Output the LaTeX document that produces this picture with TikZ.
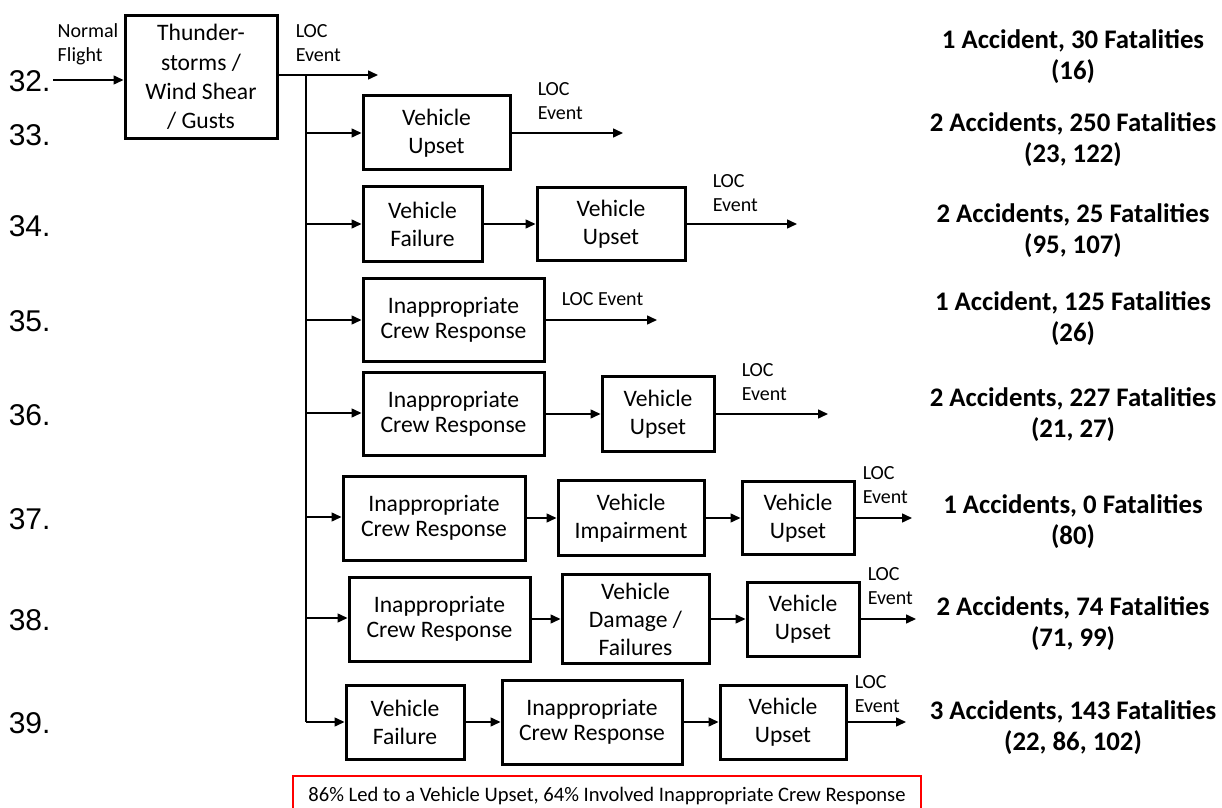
\documentclass[tikz,border=0pt]{standalone}
\usepackage{fontspec}
\setmainfont{Carlito}
\newfontfamily\rowfont{Liberation Sans}
\usetikzlibrary{arrows.meta}
\tikzset{
  blk/.style={draw, line width=1.5pt, align=center, inner sep=0pt,
    font=\fontsize{11.8}{14}\selectfont},
  crew/.style={blk, font=\fontsize{11.8}{12.6}\selectfont},
  loc/.style={anchor=west, align=left, inner sep=0pt,
    font=\fontsize{10}{12}\selectfont},
  tally/.style={align=center, inner sep=0pt,
    font=\fontsize{13.4}{15.5}\selectfont\bfseries},
  rownum/.style={anchor=west, inner sep=0pt,
    font=\fontsize{15}{18}\selectfont\rowfont},
  note/.style={draw=red, line width=0.6pt, inner sep=0pt,
    font=\fontsize{10.3}{12}\selectfont},
  >={Triangle[length=5pt,width=4.5pt]}
}

\begin{document}
\begin{tikzpicture}[x=0.5pt, y=-0.5pt, line width=0.75pt]
  \useasboundingbox (0,0) rectangle (1222,808);

  \node [rownum] (n32) at (8,81) {32.};
  \node [rownum] (n33) at (8,135) {33.};
  \node [rownum] (n34) at (8,226) {34.};
  \node [rownum] (n35) at (8,321) {35.};
  \node [rownum] (n36) at (8,415) {36.};
  \node [rownum] (n37) at (8,519) {37.};
  \node [rownum] (n38) at (8,620) {38.};
  \node [rownum] (n39) at (8,723) {39.};

  \node [blk, font=\fontsize{11.8}{14.6}\selectfont, minimum width=76pt, minimum height=61.5pt] (storm) at (201,77) {Thunder-\\storms /\\Wind Shear\\/ Gusts};
  \coordinate (in) at (53,80);
  \node [loc] (normal) at (57,44) {Normal\\Flight};
  \draw [->] (in) -- (in -| storm.west);

  \coordinate (b32) at (306,75);
  \coordinate (e32) at (378,75);
  \draw [->] (storm.east |- e32) -- (e32);
  \node [loc] (loc32) at (295,43.5) {LOC\\Event};

  \coordinate (j33) at (306,133);
  \coordinate (j34) at (306,224);
  \coordinate (j35) at (306,320);
  \coordinate (j36) at (306,413);
  \coordinate (j37) at (306,517);
  \coordinate (j38) at (306,618);
  \coordinate (j39) at (306,722);
  \draw [line width=1pt] (b32) -- (j39);

  \node [blk, minimum width=73.5pt, minimum height=37pt] (up33) at (436.5,133) {Vehicle\\Upset};
  \coordinate (e33) at (623,133);
  \draw [->] (j33) -- (up33.west);
  \draw [->] (up33) -- (e33);
  \node [loc] (loc33) at (537,101) {LOC\\Event};

  \node [blk, minimum width=59.5pt, minimum height=37.5pt] (fail34) at (422.5,224) {Vehicle\\Failure};
  \node [blk, minimum width=74pt, minimum height=36.5pt] (up34) at (611,224) {Vehicle\\Upset};
  \coordinate (e34) at (797,224);
  \draw [->] (j34) -- (fail34.west);
  \draw [->] (fail34) -- (up34);
  \draw [->] (up34) -- (e34);
  \node [loc] (loc34) at (712,193.5) {LOC\\Event};

  \node [crew, minimum width=90.5pt, minimum height=41.5pt] (crew35) at (453.5,320) {Inappropriate\\Crew Response};
  \coordinate (e35) at (657,320);
  \draw [->] (j35) -- (crew35.west);
  \draw [->] (crew35) -- (e35);
  \node [loc] (loc35) at (561,299) {LOC Event};

  \node [crew, minimum width=90.5pt, minimum height=41.5pt] (crew36) at (453.5,414) {Inappropriate\\Crew Response};
  \node [blk, minimum width=56pt, minimum height=37.5pt] (up36) at (658,414) {Vehicle\\Upset};
  \coordinate (e36) at (828,414);
  \draw [->] (j36) -- (crew36.west |- j36);
  \draw [->] (crew36) -- (up36);
  \draw [->] (up36) -- (e36);
  \node [loc] (loc36) at (741,382) {LOC\\Event};

  \node [crew, minimum width=91pt, minimum height=42pt] (crew37) at (434,518) {Inappropriate\\Crew Response};
  \node [blk, minimum width=73pt, minimum height=37.5pt] (imp37) at (631,518) {Vehicle\\Impairment};
  \node [blk, minimum width=56pt, minimum height=36.5pt] (up37) at (798,518) {Vehicle\\Upset};
  \coordinate (e37) at (912,518);
  \draw [->] (j37) -- (crew37.west |- j37);
  \draw [->] (crew37) -- (imp37);
  \draw [->] (imp37) -- (up37);
  \draw [->] (up37) -- (e37);
  \node [loc] (loc37) at (862,485) {LOC\\Event};

  \node [crew, minimum width=90.5pt, minimum height=42pt] (crew38) at (439.5,619) {Inappropriate\\Crew Response};
  \node [blk, minimum width=73.5pt, minimum height=44.5pt] (dam38) at (635.5,619) {Vehicle\\Damage /\\Failures};
  \node [blk, minimum width=56pt, minimum height=37pt] (up38) at (803,619) {Vehicle\\Upset};
  \coordinate (e38) at (916,619);
  \draw [->] (j38) -- (crew38.west |- j38);
  \draw [->] (crew38) -- (dam38);
  \draw [->] (dam38) -- (up38);
  \draw [->] (up38) -- (e38);
  \node [loc] (loc38) at (867,586) {LOC\\Event};

  \node [blk, minimum width=59pt, minimum height=37pt] (fail39) at (405,722) {Vehicle\\Failure};
  \node [crew, minimum width=90pt, minimum height=42pt] (crew39) at (592,722) {Inappropriate\\Crew Response};
  \node [blk, minimum width=63pt, minimum height=37pt] (up39) at (783,722) {Vehicle\\Upset};
  \coordinate (e39) at (906,722);
  \draw [->] (j39) -- (fail39.west);
  \draw [->] (fail39) -- (crew39);
  \draw [->] (crew39) -- (up39);
  \draw [->] (up39) -- (e39);
  \node [loc] (loc39) at (854,694) {LOC\\Event};

  \node [tally] (t32) at (1073,57) {1 Accident, 30 Fatalities\\(16)};
  \node [tally] (t33) at (1073,140) {2 Accidents, 250 Fatalities\\(23, 122)};
  \node [tally] (t34) at (1073,231) {2 Accidents, 25 Fatalities\\(95, 107)};
  \node [tally] (t35) at (1073,319) {1 Accident, 125 Fatalities\\(26)};
  \node [tally] (t36) at (1073,415) {2 Accidents, 227 Fatalities\\(21, 27)};
  \node [tally] (t37) at (1073,522) {1 Accidents, 0 Fatalities\\(80)};
  \node [tally] (t38) at (1073,624) {2 Accidents, 74 Fatalities\\(71, 99)};
  \node [tally] (t39) at (1073,728) {3 Accidents, 143 Fatalities\\(22, 86, 102)};

  \node [note, minimum width=314pt, minimum height=20pt] (summary) at (607,796) {86\% Led to a Vehicle Upset, 64\% Involved Inappropriate Crew Response};
\end{tikzpicture}
\end{document}
